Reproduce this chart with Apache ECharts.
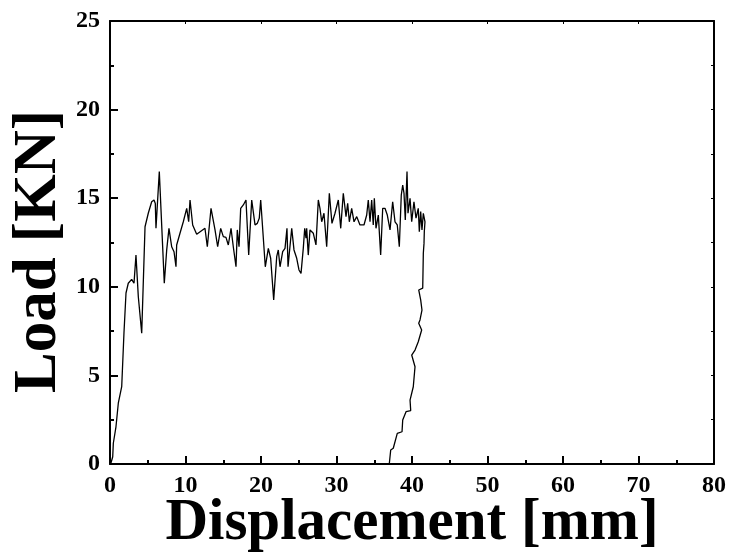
<!DOCTYPE html>
<html>
<head>
<meta charset="utf-8">
<script src="https://cdn.jsdelivr.net/npm/echarts@6/dist/echarts.min.js"></script>
<style>
  html, body { margin: 0; padding: 0; background: #fff; }
  #chart { width: 732px; height: 560px; }
</style>
</head>
<body>
<div id="chart"></div>
<script>
// 位移 [mm]，载荷 [KN]，按曲线顺序读取
const displacement = [
  0.09, 0.36, 0.44, 0.79, 1.10, 1.55, 1.85, 2.12, 2.42, 2.87, 3.18, 3.44, 3.75, 4.20, 4.64, 5.07, 5.52, 5.83, 6.00, 6.09,
  6.53, 7.19, 7.51, 7.81, 8.17, 8.48, 8.74, 8.83, 9.27, 9.71, 10.16, 10.42, 10.60, 10.95, 11.48, 12.58, 12.89, 13.38, 13.91, 14.26,
  14.66, 15.01, 15.36, 15.67, 16.03, 16.33, 16.69, 16.86, 17.09, 17.31, 17.66, 18.01, 18.37, 18.77, 19.21, 19.51, 19.77, 19.96, 20.57, 20.97,
  21.28, 21.68, 22.08, 22.29, 22.52, 22.87, 23.18, 23.44, 23.58, 23.75, 24.07, 24.37, 24.73, 25.03, 25.30, 25.60, 25.79, 25.96, 26.05, 26.26,
  26.49, 26.93, 27.28, 27.59, 27.81, 28.04, 28.34, 28.70, 29.05, 29.40, 29.80, 30.24, 30.56, 30.90, 31.26, 31.48, 31.70, 32.01, 32.32, 32.68,
  33.11, 33.64, 34.00, 34.21, 34.44, 34.66, 34.87, 35.01, 35.23, 35.54, 35.85, 36.12, 36.42, 36.73, 37.09, 37.44, 37.75, 38.05, 38.32, 38.58,
  38.77, 38.94, 39.11, 39.34, 39.47, 39.74, 39.96, 40.26, 40.53, 40.83, 40.97, 41.15, 41.32, 41.50, 41.72, 41.63, 41.59, 41.50, 41.42, 40.89,
  41.15, 41.32, 41.06, 40.89, 41.28, 40.83, 40.40, 39.96, 40.40, 40.17, 39.74, 39.83, 39.21, 38.77, 38.68, 38.05, 37.52, 37.18, 36.99
]
const load = [
  0.00, 0.41, 1.17, 2.10, 3.43, 4.36, 7.39, 9.65, 10.20, 10.42, 10.20, 11.79, 9.44, 7.38, 13.39, 14.15, 14.80, 14.90, 14.70, 13.30,
  16.50, 10.20, 12.08, 13.30, 12.26, 11.98, 11.13, 12.36, 13.02, 13.67, 14.43, 13.67, 14.90, 13.49, 12.96, 13.30, 12.26, 14.43, 13.21, 12.26,
  13.30, 12.83, 12.79, 12.36, 13.30, 12.26, 11.13, 13.21, 12.26, 14.43, 14.62, 14.90, 11.79, 14.90, 13.49, 13.58, 13.87, 14.90, 11.13, 12.17,
  11.61, 9.26, 11.70, 12.08, 11.13, 11.98, 12.17, 13.30, 11.13, 11.89, 13.30, 12.08, 11.61, 10.95, 10.76, 12.17, 13.30, 12.74, 13.30, 11.79,
  13.21, 13.02, 12.36, 14.90, 14.43, 13.67, 14.15, 12.26, 15.28, 13.58, 14.15, 14.90, 13.30, 15.28, 13.96, 14.71, 13.67, 14.43, 13.67, 13.96,
  13.49, 13.49, 14.05, 14.90, 13.67, 14.90, 13.49, 14.99, 13.30, 14.05, 11.79, 14.43, 14.43, 14.05, 13.21, 14.80, 13.67, 13.49, 12.26, 15.18,
  15.74, 15.28, 13.77, 16.50, 14.15, 14.99, 13.67, 14.80, 13.87, 14.43, 13.11, 14.24, 13.21, 14.15, 13.67, 13.11, 12.45, 11.89, 9.92, 9.82,
  9.26, 8.69, 8.13, 7.94, 7.56, 6.90, 6.43, 6.15, 5.49, 4.36, 3.61, 3.01, 2.95, 2.48, 1.82, 1.73, 0.89, 0.79, 0.00
]

const chart = echarts.init(document.getElementById('chart'))
const font = 'Liberation Serif'
const axisLine = { show: true, onZero: false, lineStyle: { color: '#000', width: 2 } }

const option = {
  animation: false,
  backgroundColor: '#fff',
  grid: { left: 110, right: 18, top: 21, bottom: 96, containLabel: false, outerBoundsMode: 'none' },
  xAxis: [
    {
      type: 'value', min: 0, max: 80, interval: 10,
      name: 'Displacement [mm]', nameLocation: 'middle', nameGap: 30, nameMoveOverlap: false,
      nameTextStyle: { fontFamily: font, fontWeight: 'bold', fontSize: 59, color: '#000' },
      axisLine: axisLine,
      axisTick: { show: true, inside: true, length: 8, lineStyle: { color: '#000', width: 2 } },
      minorTick: { show: true, splitNumber: 2, length: 4, lineStyle: { color: '#000', width: 2 } },
      axisLabel: { fontFamily: font, fontWeight: 'bold', fontSize: 24, color: '#000', margin: 10 },
      splitLine: { show: false }
    },
    {
      type: 'value', min: 0, max: 80, interval: 10, position: 'top',
      axisLine: axisLine,
      axisTick: { show: true, inside: true, length: 3, lineStyle: { color: '#000', width: 1 } },
      minorTick: { show: false },
      axisLabel: { show: false },
      splitLine: { show: false }
    }
  ],
  yAxis: [
    {
      type: 'value', min: 0, max: 25, interval: 5,
      name: 'Load [KN]', nameLocation: 'middle', nameGap: 40, nameMoveOverlap: false,
      nameTextStyle: { fontFamily: font, fontWeight: 'bold', fontSize: 61, color: '#000', padding: [0, 18, 0, 0] },
      axisLine: axisLine,
      axisTick: { show: true, inside: true, length: 8, lineStyle: { color: '#000', width: 2 } },
      minorTick: { show: true, splitNumber: 2, length: 4, lineStyle: { color: '#000', width: 2 } },
      axisLabel: { fontFamily: font, fontWeight: 'bold', fontSize: 24, color: '#000', margin: 10 },
      splitLine: { show: false }
    },
    {
      type: 'value', min: 0, max: 25, interval: 5, position: 'right',
      axisLine: axisLine,
      axisTick: { show: true, inside: true, length: 3, lineStyle: { color: '#000', width: 1 } },
      minorTick: { show: true, splitNumber: 2, length: 3, lineStyle: { color: '#000', width: 1 } },
      axisLabel: { show: false },
      splitLine: { show: false }
    }
  ],
  series: [
    {
      type: 'line',
      data: displacement.map((x, i) => [x, load[i]]),
      showSymbol: false,
      lineStyle: { color: '#000', width: 1.3 },
      z: 1
    }
  ]
}
chart.setOption(option)
</script>
</body>
</html>
